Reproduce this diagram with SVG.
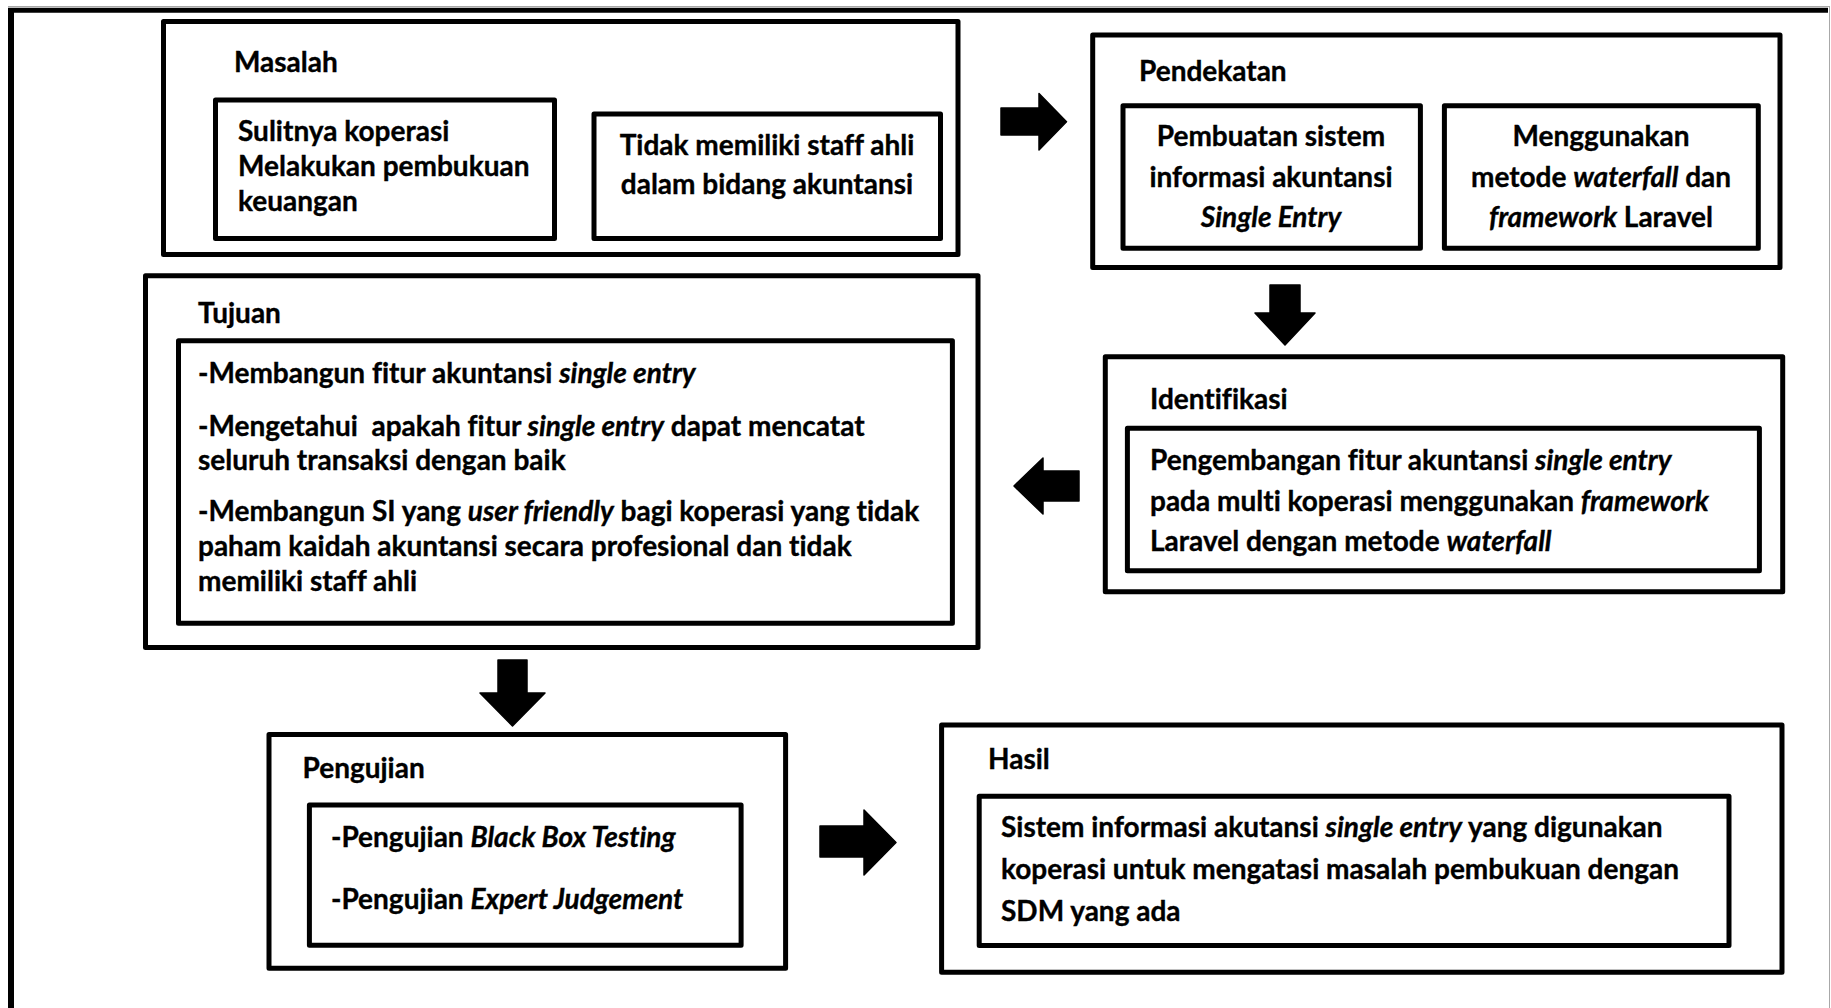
<svg xmlns="http://www.w3.org/2000/svg" width="1831" height="1008" viewBox="0 0 1831 1008">
  <style>
    .box { fill: none; stroke: #000; stroke-width: 5; stroke-linejoin: round; }
    .t { font-family: Lato, "Liberation Sans", sans-serif; font-weight: bold; font-size: 28px; fill: #000; stroke: #000; stroke-width: 0.35; white-space: pre; font-variant-ligatures: none; font-feature-settings: "liga" 0; }
    .i { font-style: italic; }
    .c { text-anchor: middle; }
    .arrow { fill: #000; stroke: #000; stroke-width: 1.5; stroke-linejoin: round; }
  </style>
  <rect width="1831" height="1008" fill="#fff"/>

  <!-- page frame -->
  <g id="frame">
    <line x1="8" y1="6.5" x2="1830" y2="6.5" stroke="#a8a8a8" stroke-width="1"/>
    <line x1="1829.5" y1="6.5" x2="1829.5" y2="1008" stroke="#a8a8a8" stroke-width="1"/>
    <line x1="8" y1="10.3" x2="1828" y2="10.3" stroke="#000" stroke-width="5"/>
    <line x1="11" y1="8" x2="11" y2="1008" stroke="#000" stroke-width="6"/>
  </g>

  <g id="masalah">
    <rect class="box" x="163.5" y="21.5" width="794.5" height="233"/>
    <text class="t" x="234" y="72">Masalah</text>
    <rect class="box" x="215.5" y="100" width="339" height="138.5"/>
    <text class="t" x="238" y="141">Sulitnya koperasi</text>
    <text class="t" x="238" y="175.5">Melakukan pembukuan</text>
    <text class="t" x="238" y="210.5">keuangan</text>
    <rect class="box" x="594" y="114" width="346.5" height="124.5"/>
    <text class="t c" x="767" y="155">Tidak memiliki staff ahli</text>
    <text class="t c" x="767" y="194">dalam bidang akuntansi</text>
  </g>

  <g id="pendekatan">
    <rect class="box" x="1092.7" y="35" width="687.3" height="232.5"/>
    <text class="t" x="1139" y="81">Pendekatan</text>
    <rect class="box" x="1123" y="105.7" width="297.4" height="142.6"/>
    <text class="t c" x="1271" y="146">Pembuatan sistem</text>
    <text class="t c" x="1271" y="187">informasi akuntansi</text>
    <text class="t c i" x="1271" y="227">Single Entry</text>
    <rect class="box" x="1444.4" y="105.7" width="313.9" height="142.6"/>
    <text class="t c" x="1601" y="146">Menggunakan</text>
    <text class="t c" x="1601" y="187">metode <tspan class="i">waterfall</tspan> dan</text>
    <text class="t c" x="1601" y="227"><tspan class="i">framework</tspan> Laravel</text>
  </g>

  <g id="identifikasi">
    <rect class="box" x="1105.3" y="356.7" width="677.4" height="235"/>
    <text class="t" x="1150" y="409">Identifikasi</text>
    <rect class="box" x="1127.4" y="428.2" width="632" height="142.6"/>
    <text class="t" x="1150" y="470">Pengembangan fitur akuntansi <tspan class="i">single entry</tspan></text>
    <text class="t" x="1150" y="510.5">pada multi koperasi menggunakan <tspan class="i">framework</tspan></text>
    <text class="t" x="1150" y="551">Laravel dengan metode <tspan class="i">waterfall</tspan></text>
  </g>

  <g id="tujuan">
    <rect class="box" x="145.5" y="275.8" width="832.5" height="371.7"/>
    <text class="t" x="198" y="323">Tujuan</text>
    <rect class="box" x="178.5" y="340.8" width="773.9" height="282.4"/>
    <text class="t" x="198" y="383">-Membangun fitur akuntansi <tspan class="i">single entry</tspan></text>
    <text class="t" x="198" y="436">-Mengetahui  apakah fitur <tspan class="i">single entry</tspan> dapat mencatat</text>
    <text class="t" x="198" y="470">seluruh transaksi dengan baik</text>
    <text class="t" x="198" y="521">-Membangun SI yang <tspan class="i">user friendly</tspan> bagi koperasi yang tidak</text>
    <text class="t" x="198" y="556">paham kaidah akuntansi secara profesional dan tidak</text>
    <text class="t" x="198" y="591">memiliki staff ahli</text>
  </g>

  <g id="pengujian">
    <rect class="box" x="269" y="734.5" width="516.6" height="233.8"/>
    <text class="t" x="302.5" y="778">Pengujian</text>
    <rect class="box" x="309.4" y="805" width="431.7" height="140.3"/>
    <text class="t" x="331" y="847">-Pengujian <tspan class="i">Black Box Testing</tspan></text>
    <text class="t" x="331" y="909">-Pengujian <tspan class="i">Expert Judgement</tspan></text>
  </g>

  <g id="hasil">
    <rect class="box" x="941.6" y="725" width="840.4" height="247.3"/>
    <text class="t" x="988" y="769">Hasil</text>
    <rect class="box" x="979.2" y="796.3" width="749.8" height="149.2"/>
    <text class="t" x="1001" y="837">Sistem informasi akutansi <tspan class="i">single entry</tspan> yang digunakan</text>
    <text class="t" x="1001" y="879">koperasi untuk mengatasi masalah pembukuan dengan</text>
    <text class="t" x="1001" y="921">SDM yang ada</text>
  </g>

  <!-- block arrows between stages -->
  <g id="connectors">
    <polygon class="arrow" points="1001,108 1039,108 1039,93.5 1066.5,121.7 1039,150 1039,135 1001,135"/>
    <polygon class="arrow" points="1270,285 1300,285 1300,313 1315,313 1285,345 1255,313 1270,313"/>
    <polygon class="arrow" points="1079,471 1043,471 1043,458 1014,486 1043,514 1043,501 1079,501"/>
    <polygon class="arrow" points="498,660 527,660 527,693 545,693 512.5,726 480,693 498,693"/>
    <polygon class="arrow" points="820,826 864,826 864,810 896,842.5 864,875 864,857 820,857"/>
  </g>
</svg>
